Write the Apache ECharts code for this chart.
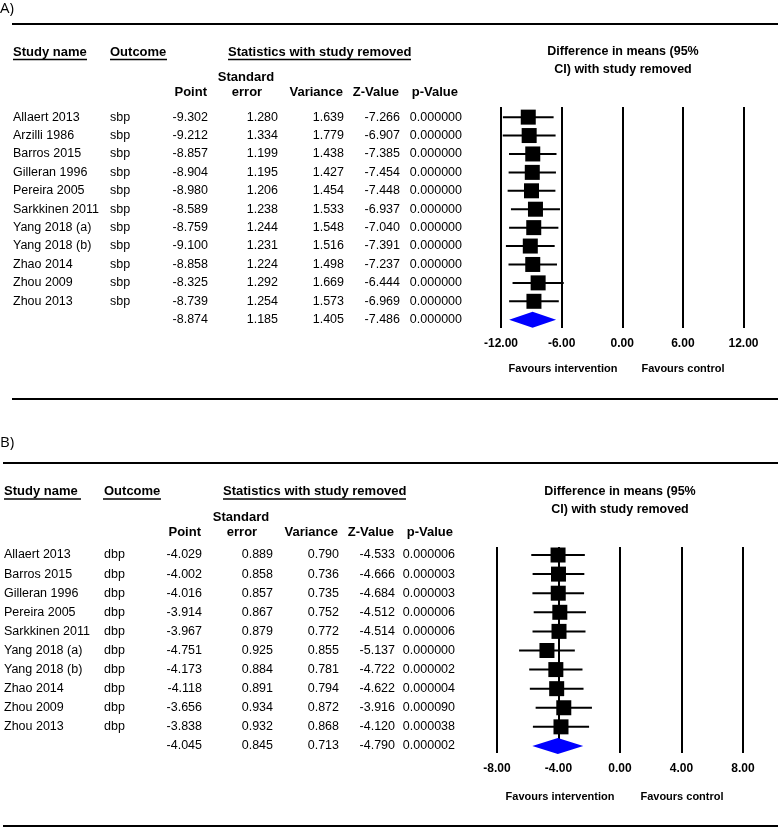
<!DOCTYPE html>
<html><head><meta charset="utf-8">
<script src="https://cdn.jsdelivr.net/npm/echarts@6.0.0/dist/echarts.min.js"></script>
<style>html,body{margin:0;padding:0;background:#fff}#c{width:778px;height:828px}</style>
</head><body><div id="c"></div><script>
// ---------- Panel A data (sbp) ; last element of stat arrays = pooled ----------
const namesA = ['Allaert 2013','Arzilli 1986','Barros 2015','Gilleran 1996','Pereira 2005','Sarkkinen 2011','Yang 2018 (a)','Yang 2018 (b)','Zhao 2014','Zhou 2009','Zhou 2013'];
const outcomeA = 'sbp';
const pointA = [-9.302,-9.212,-8.857,-8.904,-8.980,-8.589,-8.759,-9.100,-8.858,-8.325,-8.739,-8.874];
const seA    = [1.280,1.334,1.199,1.195,1.206,1.238,1.244,1.231,1.224,1.292,1.254,1.185];
const varA   = [1.639,1.779,1.438,1.427,1.454,1.533,1.548,1.516,1.498,1.669,1.573,1.405];
const zA     = [-7.266,-6.907,-7.385,-7.454,-7.448,-6.937,-7.040,-7.391,-7.237,-6.444,-6.969,-7.486];
const pA     = [0,0,0,0,0,0,0,0,0,0,0,0];
const lowerA = [-11.811,-11.827,-11.207,-11.246,-11.344,-11.015,-11.197,-11.513,-11.257,-10.857,-11.197,-11.197];
const upperA = [-6.793,-6.597,-6.507,-6.562,-6.616,-6.163,-6.321,-6.687,-6.459,-5.793,-6.281,-6.551];
const ticksA = [-12,-6,0,6,12];

// ---------- Panel B data (dbp) ----------
const namesB = ['Allaert 2013','Barros 2015','Gilleran 1996','Pereira 2005','Sarkkinen 2011','Yang 2018 (a)','Yang 2018 (b)','Zhao 2014','Zhou 2009','Zhou 2013'];
const outcomeB = 'dbp';
const pointB = [-4.029,-4.002,-4.016,-3.914,-3.967,-4.751,-4.173,-4.118,-3.656,-3.838,-4.045];
const seB    = [0.889,0.858,0.857,0.867,0.879,0.925,0.884,0.891,0.934,0.932,0.845];
const varB   = [0.790,0.736,0.735,0.752,0.772,0.855,0.781,0.794,0.872,0.868,0.713];
const zB     = [-4.533,-4.666,-4.684,-4.512,-4.514,-5.137,-4.722,-4.622,-3.916,-4.120,-4.790];
const pB     = [0.000006,0.000003,0.000003,0.000006,0.000006,0.000000,0.000002,0.000004,0.000090,0.000038,0.000002];
const lowerB = [-5.771,-5.684,-5.696,-5.613,-5.690,-6.564,-5.906,-5.864,-5.487,-5.665,-5.701];
const upperB = [-2.287,-2.320,-2.336,-2.215,-2.244,-2.938,-2.440,-2.372,-1.825,-2.011,-2.389];
const ticksB = [-8,-4,0,4,8];

const headerLeft = ['Study name','Outcome','Statistics with study removed'];
const headerCols = ['Point','Standard','error','Variance','Z-Value','p-Value'];
const plotTitle = ['Difference in means (95%','CI) with study removed'];
const favours = ['Favours intervention','Favours control'];

// ---------- layout ----------
const FF = '"Liberation Sans", Arial, Helvetica, sans-serif';
const fBody = '12.5px ' + FF;
const fHead = 'bold 13px ' + FF;
const fBold = 'bold 12.5px ' + FF;
const panels = [
  {label:'A)', labelY:9, topLine:24, topLineX:12, botLine:399, botLineX:12,
   names:namesA, outcome:outcomeA, point:pointA, se:seA, vari:varA, z:zA, p:pA, lower:lowerA, upper:upperA, ticks:ticksA,
   gridTop:107, gridH:221, yMin:-0.55, yMax:11.45, fLeft:501, fWidth:242.5,
   hY1:52, hUL:59.5, hY2a:77, hY2b:92, cName:13, cOut:110, cols:[208,278,344,400,462], hdrRight:[207,262,343,399,458], stdC:246,
   ul:[[13,87],[110,167],[228,411]], titleC:623, titleY:[52,70], favY:369, favX:[563,683]},
  {label:'B)', labelY:443, topLine:463, topLineX:3, botLine:826, botLineX:3,
   names:namesB, outcome:outcomeB, point:pointB, se:seB, vari:varB, z:zB, p:pB, lower:lowerB, upper:upperB, ticks:ticksB,
   gridTop:547, gridH:206, yMin:-0.42, yMax:10.37, fLeft:497, fWidth:246,
   hY1:491, hUL:499, hY2a:517, hY2b:532, cName:4, cOut:104, cols:[202,273,339,395,455], hdrRight:[201,257,338,394,453], stdC:241,
   ul:[[4,81],[103,161],[223,406]], titleC:620, titleY:[492,510], favY:797, favX:[560,682]}
];

function txt(t, x, y, align, font, extra){
  return Object.assign({type:'text', x:x, y:y, silent:true,
    style:{text:t, font:font, fill:'#000', align:align, textAlign:align, verticalAlign:'middle', textVerticalAlign:'middle'}}, extra||{});
}
function hline(x1,x2,y,w){
  return {type:'line', silent:true, shape:{x1:x1,y1:y,x2:x2,y2:y}, style:{stroke:'#000', lineWidth:w}};
}

const grids=[], xAxes=[], yAxes=[], series=[], graphics=[];
panels.forEach((P, k) => {
  const gT = grids.length, gF = grids.length+1;
  grids.push({left:0, top:P.gridTop, width:470, height:P.gridH});
  grids.push({left:P.fLeft, top:P.gridTop, width:P.fWidth, height:P.gridH});
  xAxes.push({gridIndex:gT, type:'value', min:0, max:470, show:false});
  xAxes.push({gridIndex:gF, type:'value', min:P.ticks[0], max:P.ticks[P.ticks.length-1], interval:P.ticks[1]-P.ticks[0],
    axisLine:{show:false}, axisTick:{show:false},
    splitLine:{show:true, showMinLine:true, showMaxLine:true, lineStyle:{color:'#000', width:2}},
    axisLabel:{margin:10, color:'#000', fontWeight:'bold', fontSize:12, fontFamily:FF, formatter:v=>v.toFixed(2)}});
  [gT,gF].forEach(g => yAxes.push({gridIndex:g, type:'value', inverse:true, min:P.yMin, max:P.yMax, show:false}));

  const nRows = P.point.length;
  const rows = P.point.map((v,i)=>[0,i]);
  // table cells
  series.push({type:'custom', xAxisIndex:gT, yAxisIndex:gT, data:rows, silent:true,
    renderItem:(params, api)=>{
      const i = api.value(1);
      const y = api.coord([0,i])[1];
      const X = c => api.coord([c,i])[0];
      const ch = [];
      if (i < P.names.length){
        ch.push(txt(P.names[i], X(P.cName), y, 'left', fBody));
        ch.push(txt(P.outcome, X(P.cOut), y, 'left', fBody));
      }
      const vals = [P.point[i].toFixed(3), P.se[i].toFixed(3), P.vari[i].toFixed(3), P.z[i].toFixed(3), P.p[i].toFixed(6)];
      vals.forEach((v,j)=>ch.push(txt(v, X(P.cols[j]), y, 'right', fBody)));
      return {type:'group', children:ch};
    }});
  // whiskers (studies)
  series.push({type:'custom', xAxisIndex:gF, yAxisIndex:gF, silent:true,
    data:P.names.map((n,i)=>[P.lower[i], P.upper[i], i]),
    renderItem:(params, api)=>{
      const a = api.coord([api.value(0), api.value(2)]);
      const b = api.coord([api.value(1), api.value(2)]);
      return {type:'line', shape:{x1:a[0],y1:a[1],x2:b[0],y2:b[1]}, style:{stroke:'#000', lineWidth:2}};
    }});
  // squares
  series.push({type:'scatter', xAxisIndex:gF, yAxisIndex:gF, silent:true, symbol:'rect', symbolSize:15,
    itemStyle:{color:'#000', opacity:1}, z:3,
    data:P.names.map((n,i)=>[P.point[i], i])});
  // pooled diamond
  const s = nRows-1;
  series.push({type:'custom', xAxisIndex:gF, yAxisIndex:gF, silent:true, z:3,
    data:[[P.lower[s], P.point[s], P.upper[s], s]],
    renderItem:(params, api)=>{
      const r = api.value(3);
      const L = api.coord([api.value(0), r]), C = api.coord([api.value(1), r]), R = api.coord([api.value(2), r]);
      return {type:'polygon', shape:{points:[[L[0],L[1]],[C[0],C[1]-8],[R[0],R[1]],[C[0],C[1]+8]]}, style:{fill:'#0000ff'}};
    }});

  // static texts / rules
  graphics.push(txt(P.label, 0, P.labelY, 'left', '15px "Open Sans", "Noto Sans", sans-serif'));
  graphics.push(hline(P.topLineX, 778, P.topLine, 2.2));
  graphics.push(hline(P.botLineX, 778, P.botLine, 2.2));
  graphics.push(txt(headerLeft[0], P.cName, P.hY1, 'left', fHead));
  graphics.push(txt(headerLeft[1], P.cOut, P.hY1, 'left', fHead));
  graphics.push(txt(headerLeft[2], P.ul[2][0], P.hY1, 'left', fHead));
  P.ul.forEach(u => graphics.push(hline(u[0], u[1], P.hUL, 1.3)));
  graphics.push(txt(headerCols[0], P.hdrRight[0], P.hY2b, 'right', fHead));
  graphics.push(txt(headerCols[1], P.stdC, P.hY2a, 'center', fHead));
  graphics.push(txt(headerCols[2], P.stdC+1, P.hY2b, 'center', fHead));
  graphics.push(txt(headerCols[3], P.hdrRight[2], P.hY2b, 'right', fHead));
  graphics.push(txt(headerCols[4], P.hdrRight[3], P.hY2b, 'right', fHead));
  graphics.push(txt(headerCols[5], P.hdrRight[4], P.hY2b, 'right', fHead));
  graphics.push(txt(plotTitle[0], P.titleC, P.titleY[0], 'center', fBold));
  graphics.push(txt(plotTitle[1], P.titleC, P.titleY[1], 'center', fBold));
  graphics.push(txt(favours[0], P.favX[0], P.favY, 'center', 'bold 11px ' + FF));
  graphics.push(txt(favours[1], P.favX[1], P.favY, 'center', 'bold 11px ' + FF));
});

const chart = echarts.init(document.getElementById('c'), null, {renderer:'canvas'});
chart.setOption({
  animation:false, backgroundColor:'#fff',
  grid:grids, xAxis:xAxes, yAxis:yAxes, series:series, graphic:{elements:graphics}
});
</script></body></html>
